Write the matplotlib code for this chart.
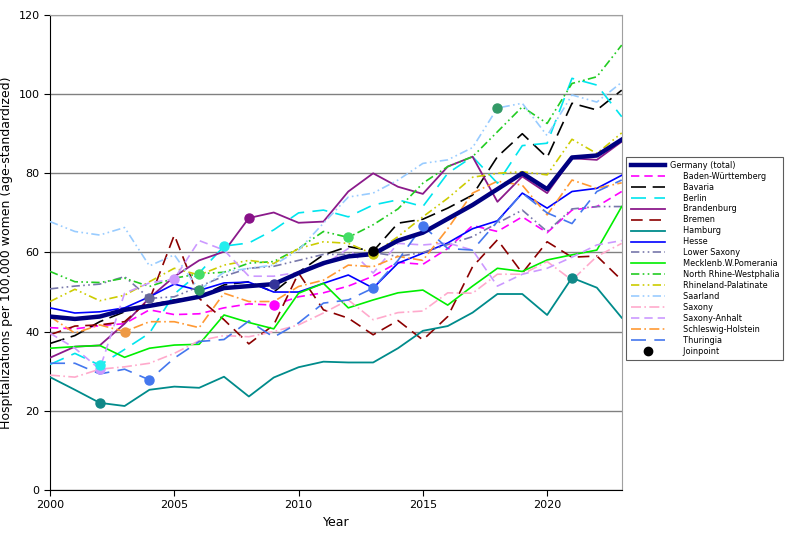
"""Hospitalizations per 100,000 women by federal state, 2000-2023."""
import numpy as np
import matplotlib

matplotlib.use("Agg")
import matplotlib.pyplot as plt
from matplotlib.lines import Line2D

years = np.arange(2000, 2024)

germany = [43.8, 43.2, 43.8, 45.5, 46.5, 47.6, 48.8, 51.0, 51.5, 52.0, 54.8, 57.3,
           59.0, 59.6, 63.0, 65.0, 68.5, 72.0, 76.0, 80.0, 76.0, 84.0, 84.5, 88.5]
baden_wuerttemberg = [41.0, 40.7, 41.5, 42.0, 45.5, 44.3, 44.5, 46.0, 47.0, 46.7, 48.8, 49.8,
                      51.5, 54.0, 57.5, 57.0, 61.0, 66.8, 65.3, 69.0, 65.0, 70.7, 71.6, 75.4]
bavaria = [37.0, 39.0, 42.5, 45.0, 46.7, 48.0, 48.8, 51.8, 52.6, 50.0, 55.0, 59.4,
           61.5, 60.3, 67.4, 68.4, 71.2, 74.5, 84.2, 90.0, 84.0, 97.7, 96.0, 101.0]
berlin = [31.7, 34.5, 31.5, 35.5, 39.6, 49.5, 54.8, 61.6, 62.4, 65.7, 70.0, 70.7,
          69.0, 72.0, 73.3, 71.6, 80.0, 84.2, 77.5, 87.0, 87.6, 104.0, 102.3, 94.3]
brandenburg = [33.4, 36.2, 36.5, 42.0, 48.5, 53.9, 58.0, 60.2, 68.7, 70.1, 67.5, 67.8,
               75.4, 80.0, 76.6, 74.8, 81.7, 84.2, 72.8, 79.2, 75.0, 83.8, 83.4, 88.0]
bremen = [39.2, 41.4, 41.7, 42.5, 48.0, 64.4, 48.4, 43.0, 36.9, 41.7, 54.8, 45.5,
          43.4, 39.2, 42.8, 37.9, 43.8, 56.4, 63.2, 54.8, 62.7, 58.8, 59.1, 53.0]
hamburg = [28.5, 25.3, 22.0, 21.2, 25.3, 26.1, 25.8, 28.6, 23.6, 28.4, 31.0, 32.4,
           32.2, 32.2, 35.8, 40.2, 41.4, 44.8, 49.5, 49.5, 44.2, 53.6, 51.1, 43.5]
hesse = [46.0, 44.7, 45.0, 46.0, 48.8, 52.0, 50.4, 52.3, 52.5, 50.0, 50.0, 52.2,
         54.3, 51.0, 57.3, 59.8, 62.4, 66.0, 68.0, 75.0, 71.2, 75.4, 76.2, 79.5]
lower_saxony = [50.8, 51.5, 52.0, 53.9, 48.4, 48.8, 51.4, 54.0, 56.0, 56.5, 58.0, 59.5,
                59.5, 60.0, 59.0, 60.0, 62.0, 64.0, 67.4, 70.7, 65.3, 71.0, 71.6, 71.6]
mecklenburg = [35.8, 36.2, 36.5, 33.5, 35.8, 36.6, 36.8, 44.2, 42.3, 40.7, 49.7, 52.2,
               46.0, 48.0, 49.8, 50.5, 46.7, 51.5, 56.0, 55.2, 58.1, 59.4, 60.6, 71.6]
nrw = [55.2, 52.6, 52.4, 53.5, 51.4, 53.5, 54.6, 55.0, 57.3, 57.7, 61.0, 65.3,
       63.8, 67.0, 71.0, 77.5, 81.7, 84.2, 90.5, 96.8, 92.6, 102.7, 104.4, 112.4]
rhineland_palatinate = [47.6, 50.7, 47.8, 49.2, 52.6, 56.0, 54.3, 56.8, 58.0, 57.2, 61.0, 62.7,
                        62.3, 59.6, 64.0, 69.0, 73.7, 79.0, 80.0, 80.4, 79.6, 88.6, 85.0, 90.2]
saarland = [67.8, 65.3, 64.4, 66.3, 56.6, 59.4, 50.5, 55.0, 56.0, 56.8, 60.6, 67.4,
            74.0, 75.0, 78.3, 82.5, 83.4, 86.5, 96.5, 97.7, 89.5, 99.8, 98.0, 103.0]
saxony = [29.0, 28.5, 30.5, 31.1, 32.0, 34.5, 37.7, 39.0, 38.7, 40.0, 41.7, 44.7,
          48.0, 43.0, 44.8, 45.2, 49.8, 49.7, 54.5, 54.5, 57.7, 53.0, 59.0, 62.3]
saxony_anhalt = [39.6, 35.8, 30.5, 49.7, 52.3, 53.3, 63.0, 60.6, 54.0, 54.0, 55.0, 56.8,
                 61.0, 54.8, 62.3, 61.9, 62.4, 60.6, 51.5, 54.5, 56.0, 58.8, 61.9, 63.0]
schleswig_holstein = [43.8, 39.6, 41.7, 40.0, 42.5, 42.5, 41.0, 49.7, 47.6, 47.6, 51.4, 53.0,
                      56.8, 56.4, 59.0, 58.0, 66.0, 75.0, 78.0, 77.0, 69.5, 78.3, 76.2, 77.6]
thuringia = [32.0, 32.0, 29.3, 30.5, 27.8, 33.3, 37.5, 38.0, 42.7, 38.6, 42.2, 47.2,
             48.0, 51.0, 58.0, 66.8, 61.0, 60.6, 67.8, 75.0, 70.0, 67.3, 75.4, 78.3]

# (label, values, colour, dash pattern, width)
series = [
    ("Germany (total)", germany, "#000080", None, 3.2),
    ("Baden-Württemberg", baden_wuerttemberg, "#ff00ff", (5, 3), 1.2),
    ("Bavaria", bavaria, "#000000", (9, 4), 1.2),
    ("Berlin", berlin, "#00e5ee", (9, 5), 1.2),
    ("Brandenburg", brandenburg, "#8b1a8b", None, 1.3),
    ("Bremen", bremen, "#8b0000", (7, 4), 1.2),
    ("Hamburg", hamburg, "#008b8b", None, 1.3),
    ("Hesse", hesse, "#0000ff", None, 1.2),
    ("Lower Saxony", lower_saxony, "#7777aa", (5, 2, 1, 2, 1, 2), 1.2),
    ("Mecklenb.W.Pomerania", mecklenburg, "#00ee00", None, 1.2),
    ("North Rhine-Westphalia", nrw, "#22cc22", (5, 2, 1, 2, 1, 2), 1.2),
    ("Rhineland-Palatinate", rhineland_palatinate, "#cccc00", (5, 2, 1, 2, 1, 2), 1.2),
    ("Saarland", saarland, "#99ccff", (5, 2, 1, 2, 1, 2), 1.2),
    ("Saxony", saxony, "#ffaacc", (6, 2, 1, 2), 1.2),
    ("Saxony-Anhalt", saxony_anhalt, "#cc99ff", (5, 3), 1.2),
    ("Schleswig-Holstein", schleswig_holstein, "#ff9933", (6, 2, 1, 2), 1.2),
    ("Thuringia", thuringia, "#4477ee", (9, 5), 1.2),
]

# joinpoints: (series label, year, marker colour)
joinpoints = [
    ("Hamburg", 2002, "#118888"), ("Saxony-Anhalt", 2002, "#cc99ff"),
    ("Berlin", 2002, "#22eeee"), ("Schleswig-Holstein", 2003, "#ee9944"),
    ("Thuringia", 2004, "#4477ee"), ("Lower Saxony", 2004, "#666699"),
    ("Saxony-Anhalt", 2005, "#cc99ff"), ("North Rhine-Westphalia", 2006, "#44dd66"),
    ("Saarland", 2006, "#339966"), ("Berlin", 2007, "#22eeee"),
    ("Brandenburg", 2008, "#881188"), ("Germany (total)", 2009, "#333399"),
    ("Baden-Württemberg", 2009, "#ff00ff"), ("North Rhine-Westphalia", 2012, "#44dd66"),
    ("Rhineland-Palatinate", 2013, "#cccc11"), ("Bavaria", 2013, "#000000"),
    ("Thuringia", 2013, "#4477ee"), ("Thuringia", 2015, "#4477ee"),
    ("Saarland", 2018, "#339966"), ("Hamburg", 2021, "#118888"),
]

fig = plt.figure(figsize=(7.94, 5.36), dpi=100)
ax = fig.add_axes([0.063, 0.086, 0.72, 0.886])

lookup = {}
for label, vals, color, dash, lw in series:
    (line,) = ax.plot(years, vals, color=color, lw=lw, label=label, zorder=3 if lw < 2 else 4)
    if dash is not None:
        line.set_dashes(dash)
    lookup[label] = vals

for label, yr, color in joinpoints:
    ax.plot(yr, lookup[label][yr - 2000], "o", color=color, ms=6.5, zorder=5)

ax.set_xlim(2000, 2023)
ax.set_ylim(0, 120)
ax.set_xticks([2000, 2005, 2010, 2015, 2020])
ax.set_yticks(np.arange(0, 121, 20))
ax.yaxis.grid(True, color="#808080", lw=1)
ax.set_axisbelow(True)
ax.tick_params(labelsize=8, length=4)
for side in ("top", "right"):
    ax.spines[side].set_color("#a0a0a0")
ax.set_xlabel("Year", fontsize=9)
ax.set_ylabel("Hospitalizations per 100,000 women (age-standardized)", fontsize=9)

handles, labels = ax.get_legend_handles_labels()
labels = [lab if i == 0 else "     " + lab for i, lab in enumerate(labels)]
handles.append(Line2D([], [], ls="none", marker="o", color="black", ms=6))
labels.append("     Joinpoint")
leg = fig.legend(handles, labels, loc="upper left", bbox_to_anchor=(0.789, 0.708),
                 prop={"family": "DejaVu Sans", "size": 5.9}, frameon=True,
                 fancybox=False, edgecolor="#333333", handlelength=4.2,
                 labelspacing=0.24, borderpad=0.5, borderaxespad=0.0,
                 handletextpad=0.6)
leg.get_frame().set_linewidth(0.8)

fig.savefig("out.png", dpi=100)
